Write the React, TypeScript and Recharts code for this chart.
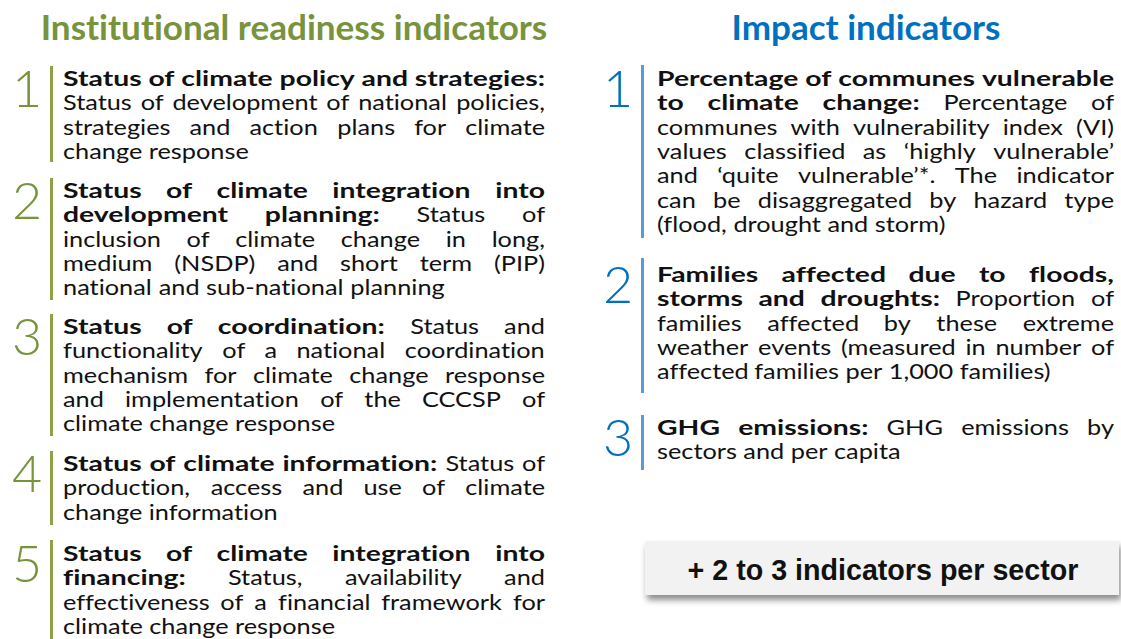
import React from "react";
import { Surface, Layer, Rectangle } from "recharts";

// two columns of indicators, each line is [bold part, regular part]
type Seg = [string, string];

const readinessTitle = "Institutional readiness indicators";
const impactTitle = "Impact indicators";
const sectorNote = "+ 2 to 3 indicators per sector";

const readinessNumbers = ["1", "2", "3", "4", "5"];
const readinessLines: Seg[][] = [
  [
    ["Status of climate policy and strategies:", ""],
    ["", "Status of development of national policies,"],
    ["", "strategies and action plans for climate"],
    ["", "change response"],
  ],
  [
    ["Status of climate integration into", ""],
    ["development planning:", "Status of"],
    ["", "inclusion of climate change in long,"],
    ["", "medium (NSDP) and short term (PIP)"],
    ["", "national and sub-national planning"],
  ],
  [
    ["Status of coordination:", "Status and"],
    ["", "functionality of a national coordination"],
    ["", "mechanism for climate change response"],
    ["", "and implementation of the CCCSP of"],
    ["", "climate change response"],
  ],
  [
    ["Status of climate information:", "Status of"],
    ["", "production, access and use of climate"],
    ["", "change information"],
  ],
  [
    ["Status of climate integration into", ""],
    ["financing:", "Status, availability and"],
    ["", "effectiveness of a financial framework for"],
    ["", "climate change response"],
  ],
];

const impactNumbers = ["1", "2", "3"];
const impactLines: Seg[][] = [
  [
    ["Percentage of communes vulnerable", ""],
    ["to climate change:", "Percentage of"],
    ["", "communes with vulnerability index (VI)"],
    ["", "values classified as \u2018highly vulnerable\u2019"],
    ["", "and \u2018quite vulnerable\u2019*. The indicator"],
    ["", "can be disaggregated by hazard type"],
    ["", "(flood, drought and storm)"],
  ],
  [
    ["Families affected due to floods,", ""],
    ["storms and droughts:", "Proportion of"],
    ["", "families affected by these extreme"],
    ["", "weather events (measured in number of"],
    ["", "affected families per 1,000 families)"],
  ],
  [
    ["GHG emissions:", "GHG emissions by"],
    ["", "sectors and per capita"],
  ],
];

// layout
const BODY_FONT = "Lato, 'Open Sans', sans-serif";
const BODY_SIZE = 20.2;
const LINE_H = 24.3;
const GREEN = "#77933C";
const GREEN_BAR = "#8AA344";
const BLUE = "#0070C0";
const BLUE_BAR = "#5B9BD5";
const NO_LIGA = { fontVariantLigatures: "none" as const };

const leftCol = { barX: 50, numX: 12, textX: 63, textW: 482, titleCx: 294, titleW: 508 };
const rightCol = { barX: 641, numX: 603, textX: 657, textW: 457, titleCx: 866, titleW: 269 };
const leftBlocks = [
  { base: 86, barTop: 66, barBot: 162 },
  { base: 198, barTop: 178, barBot: 300 },
  { base: 334, barTop: 314, barBot: 436 },
  { base: 471, barTop: 451, barBot: 525 },
  { base: 561, barTop: 540, barBot: 645 },
];
const rightBlocks = [
  { base: 86, barTop: 65, barBot: 238 },
  { base: 282, barTop: 258, barBot: 393 },
  { base: 435, barTop: 415, barBot: 470 },
];

const ctx = document.createElement("canvas").getContext("2d")!;
const measure = (t: string, weight: number, size: number, family: string) => {
  ctx.font = `${weight} ${size}px ${family}`;
  return ctx.measureText(t).width;
};
const fitSize = (t: string, weight: number, family: string, target: number) =>
  (100 * target) / measure(t, weight, 100, family);

// the slide text is wide for its height, so stretch glyphs horizontally
const SX = 272 / measure("climate change response", 400, BODY_SIZE, BODY_FONT);
const SXB =
  (482 / measure("Status of climate policy and strategies:", 700, BODY_SIZE, BODY_FONT) +
    457 / measure("Percentage of communes vulnerable", 700, BODY_SIZE, BODY_FONT)) /
  2;

const JustLine = ({ segs, x, y, width, justify }: { segs: Seg; x: number; y: number; width: number; justify: boolean }) => {
  const words: { t: string; b: boolean }[] = [];
  segs[0].split(" ").filter(Boolean).forEach((t) => words.push({ t, b: true }));
  segs[1].split(" ").filter(Boolean).forEach((t) => words.push({ t, b: false }));
  const widths = words.map((w) => (w.b ? SXB : SX) * measure(w.t, w.b ? 700 : 400, BODY_SIZE, BODY_FONT));
  const total = widths.reduce((a, b) => a + b, 0);
  const space = SX * measure(" ", 400, BODY_SIZE, BODY_FONT);
  const gap = justify && words.length > 1 ? Math.max((width - total) / (words.length - 1), 2) : space;
  let cx = x;
  return (
    <>
      {words.map((w, i) => {
        const el = (
          <text
            key={i}
            transform={`translate(${cx.toFixed(2)},${y}) scale(${(w.b ? SXB : SX).toFixed(4)},1)`}
            fontFamily={BODY_FONT}
            fontSize={BODY_SIZE}
            fontWeight={w.b ? 700 : 400}
            fill="#111"
            style={NO_LIGA}
          >
            {w.t}
          </text>
        );
        cx += widths[i] + gap;
        return el;
      })}
    </>
  );
};

const Column = ({
  col,
  blocks,
  numbers,
  lines,
  numColor,
  barColor,
}: {
  col: typeof leftCol;
  blocks: typeof leftBlocks;
  numbers: string[];
  lines: Seg[][];
  numColor: string;
  barColor: string;
}) => (
  <Layer>
    {blocks.map((b, i) => (
      <Layer key={i}>
        <Rectangle x={col.barX} y={b.barTop} width={3} height={b.barBot - b.barTop} fill={barColor} />
        <text x={col.numX} y={b.base + 21} fontFamily={BODY_FONT} fontWeight={300} fontSize={52} fill={numColor}>
          {numbers[i]}
        </text>
        {lines[i].map((segs, j) => (
          <JustLine
            key={j}
            segs={segs}
            x={col.textX}
            y={b.base + j * LINE_H}
            width={col.textW}
            justify={j < lines[i].length - 1}
          />
        ))}
      </Layer>
    ))}
  </Layer>
);

export default function App() {
  const leftTitleSize = fitSize(readinessTitle, 700, BODY_FONT, leftCol.titleW);
  const rightTitleSize = fitSize(impactTitle, 700, BODY_FONT, rightCol.titleW);
  const noteSize = fitSize(sectorNote, 700, "'Liberation Sans', Arial, sans-serif", 391);
  return (
    <div style={{ position: "absolute", left: 0, top: 0, width: 1121, height: 639, background: "#fff" }}>
      <Surface width={1121} height={639}>
        <defs>
          <filter id="boxShadow" x="-5%" y="-20%" width="115%" height="160%">
            <feDropShadow dx="2" dy="5" stdDeviation="3" floodColor="#000" floodOpacity="0.45" />
          </filter>
        </defs>
        <text
          x={leftCol.titleCx}
          y={40}
          textAnchor="middle"
          fontFamily={BODY_FONT}
          fontWeight={700}
          fontSize={leftTitleSize}
          fill={GREEN}
          style={NO_LIGA}
        >
          {readinessTitle}
        </text>
        <text
          x={rightCol.titleCx}
          y={40}
          textAnchor="middle"
          fontFamily={BODY_FONT}
          fontWeight={700}
          fontSize={rightTitleSize}
          fill={BLUE}
          style={NO_LIGA}
        >
          {impactTitle}
        </text>
        <Column col={leftCol} blocks={leftBlocks} numbers={readinessNumbers} lines={readinessLines} numColor={GREEN} barColor={GREEN_BAR} />
        <Column col={rightCol} blocks={rightBlocks} numbers={impactNumbers} lines={impactLines} numColor={BLUE} barColor={BLUE_BAR} />
        <Rectangle x={645} y={541} width={474} height={54} fill="#F2F2F2" filter="url(#boxShadow)" />
        <text
          x={883}
          y={580}
          textAnchor="middle"
          fontFamily="'Liberation Sans', Arial, sans-serif"
          fontWeight={700}
          fontSize={noteSize}
          fill="#111"
        >
          {sectorNote}
        </text>
      </Surface>
    </div>
  );
}
